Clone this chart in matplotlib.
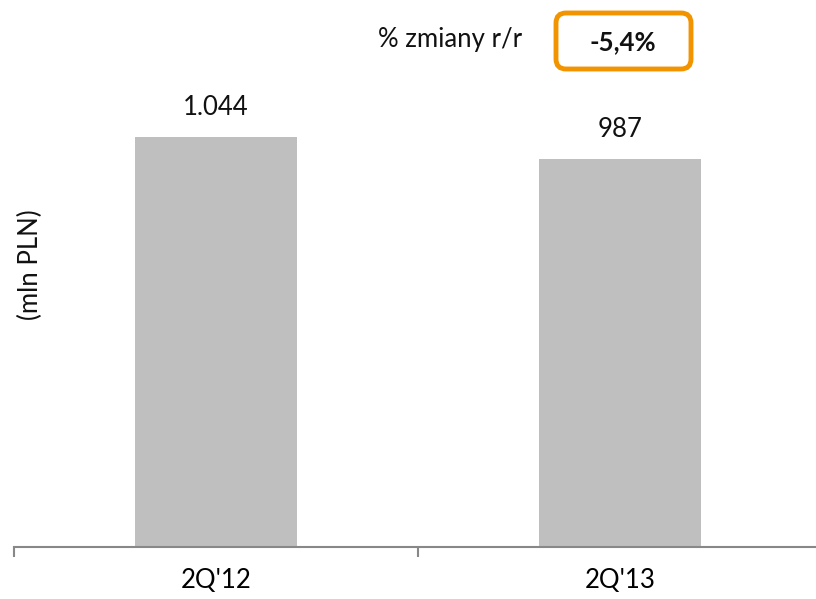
import matplotlib
matplotlib.use('Agg')
import matplotlib.pyplot as plt
from matplotlib.patches import FancyBboxPatch
from matplotlib.transforms import IdentityTransform

# Dane
kwartaly = ["2Q'12", "2Q'13"]
wartosci = [1044, 987]
zmiana_rr = "-5,4%"


def format_pl(v):
    # separator tysięcy: kropka
    return f"{v:,.0f}".replace(",", ".")


plt.rcParams['font.family'] = ['Lato', 'DejaVu Sans']

W, H, DPI = 816, 599, 100
fig = plt.figure(figsize=(W / DPI, H / DPI), dpi=DPI)

ax = fig.add_axes([14 / W, 52 / H, 808 / W, 471.3 / H])
x = range(len(kwartaly))
bars = ax.bar(x, wartosci, width=0.4, color="#BFBFBF")
ax.set_xlim(-0.5, 1.5)
ax.set_ylim(0, 1200)

for b, v in zip(bars, wartosci):
    ax.annotate(format_pl(v), (b.get_x() + b.get_width() / 2, b.get_height()),
                xytext=(0, 21.5), textcoords="offset points",
                ha="center", va="center", fontsize=18.5, color="#111111")

# oś X
for s in ["top", "right", "left"]:
    ax.spines[s].set_visible(False)
ax.spines["bottom"].set_color("#888888")
ax.spines["bottom"].set_linewidth(1.5)
ax.set_yticks([])
ax.set_xticks([-0.5, 0.5, 1.5], minor=False)
ax.set_xticklabels([])
ax.tick_params(axis="x", length=7, width=1.5, color="#888888", direction="out")
ax.set_xticks(list(x), minor=True)
ax.set_xticklabels(kwartaly, minor=True, fontsize=18.5)
ax.tick_params(axis="x", which="minor", length=0, pad=15)

fig.text(30 / W, 1 - 265 / H, "(mln PLN)", rotation=90, ha="center", va="center",
         fontsize=18.5, color="#111111")

# zmiana r/r
fig.text(450 / W, 1 - 40 / H, "% zmiany r/r", ha="center", va="center",
         fontsize=18.5, color="#111111")
box = FancyBboxPatch((556, H - 69), 135, 56,
                     boxstyle="round,pad=0,rounding_size=10",
                     transform=IdentityTransform(),
                     facecolor="white", edgecolor="#F29400", linewidth=3.5)
fig.add_artist(box)
fig.text(623 / W, 1 - 42 / H, zmiana_rr, ha="center", va="center",
         fontsize=18.5, fontweight="bold", color="#111111")

fig.savefig("out.png", dpi=DPI)
plt.close(fig)
